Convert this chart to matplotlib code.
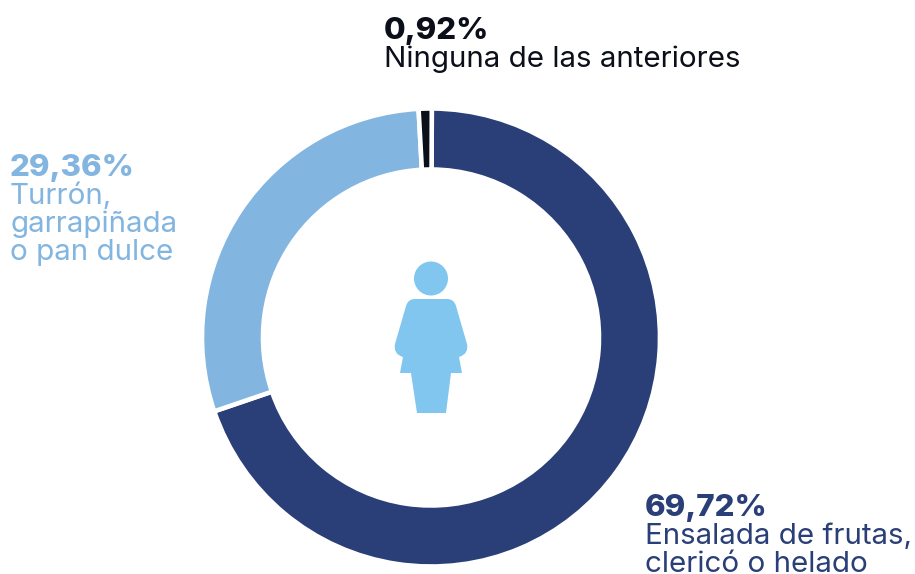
import matplotlib
matplotlib.use('Agg')
from matplotlib import pyplot as plt
from matplotlib.patches import Circle, PathPatch
from matplotlib.path import Path

H = 574
shares = [69.72, 29.36, 0.92]
colors = ['#2A3F78', '#82B5DF', '#0A0F1A']
pct_labels = ['69,72%', '29,36%', '0,92%']
names = [['Ensalada de frutas,', 'clericó o helado'], ['Turrón,', 'garrapiñada', 'o pan dulce'], ['Ninguna de las anteriores']]
text_pos = [(645, 516), (10, 176), (384, 39)]
icon_color = '#80C6EF'

plt.rcParams['font.family'] = ['Inter', 'DejaVu Sans']

fig = plt.figure(figsize=(9.15, 5.74), dpi=100)
ax = fig.add_axes([0, 0, 1, 1])

ax.pie(shares, colors=colors, startangle=89.8, counterclock=False,
       center=(431, H - 337.5), radius=229, frame=True,
       wedgeprops=dict(width=61, edgecolor='white', linewidth=3.3))
ax.set_xlim(0, 915)
ax.set_ylim(0, H)
ax.set_aspect('equal')
ax.axis('off')

# labels: bold percent, then the description lines under it
for pct, lines, pos, c in zip(pct_labels, names, text_pos, colors):
    ax.text(pos[0], H - pos[1], pct, color=c, fontsize=22.5, fontweight=800, va='baseline', ha='left')
    for i, line in enumerate(lines):
        ax.text(pos[0], H - pos[1] - 28 - 28 * i, line, color=c, fontsize=21.3, va='baseline', ha='left')

# woman icon in the middle
ax.add_patch(Circle((431, H - 278.5), 17, color=icon_color, lw=0))
M, L, C, Z = Path.MOVETO, Path.LINETO, Path.CURVE3, Path.CLOSEPOLY
body = [
    ((415, 299), M), ((447, 299), L), ((454, 299), C), ((456, 306), C),
    ((467, 344), L), ((469, 354), C), ((459, 357), C), ((462, 373), L),
    ((451, 373), L), ((446, 413), L), ((417, 413), L), ((411, 373), L),
    ((400, 373), L), ((403, 357), L), ((393, 354), C), ((395, 344), C),
    ((406, 306), L), ((408, 299), C), ((415, 299), C), ((415, 299), Z),
]
verts = [(x, H - y) for (x, y), _ in body]
codes = [c for _, c in body]
ax.add_patch(PathPatch(Path(verts, codes), facecolor=icon_color, lw=0))

fig.savefig('out.png', dpi=100)
